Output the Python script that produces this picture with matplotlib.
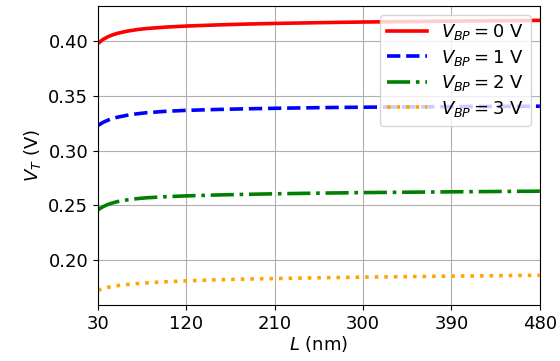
import matplotlib
matplotlib.use("Agg")
import matplotlib.pyplot as plt

# channel length (nm) and threshold voltage (V) per back-plane bias
L_nm = [30, 35, 40, 45, 50, 60, 70, 80, 100, 120, 150, 180, 210, 255, 300, 390, 480]
vt_0V = [0.398, 0.4015, 0.404, 0.4058, 0.4072, 0.4092, 0.4106, 0.4116, 0.4129, 0.4138,
         0.4148, 0.4156, 0.4162, 0.4169, 0.4175, 0.4183, 0.4190]
vt_1V = [0.323, 0.3258, 0.3278, 0.3294, 0.3306, 0.3324, 0.3337, 0.3347, 0.3360, 0.3368,
         0.3376, 0.3382, 0.3387, 0.3393, 0.3397, 0.3402, 0.3406]
vt_2V = [0.246, 0.2488, 0.2508, 0.2523, 0.2535, 0.2551, 0.2562, 0.2570, 0.2580, 0.2587,
         0.2595, 0.2601, 0.2606, 0.2612, 0.2617, 0.2624, 0.2630]
vt_3V = [0.1725, 0.1740, 0.1751, 0.1760, 0.1767, 0.1778, 0.1786, 0.1793, 0.1803, 0.1811,
         0.1820, 0.1827, 0.1832, 0.1839, 0.1845, 0.1854, 0.1862]
xticks = [30, 120, 210, 300, 390, 480]

plt.rcParams['font.size'] = 13
fig = plt.figure(figsize=(5.6, 3.61), dpi=100)
ax = fig.add_axes([0.175, 0.155, 0.789, 0.828])

ax.plot(L_nm, vt_0V, '-', color='red', lw=2.6, label=r'$V_{BP} = 0$ V')
ax.plot(L_nm, vt_1V, '--', color='blue', lw=2.6, label=r'$V_{BP} = 1$ V')
ax.plot(L_nm, vt_2V, '-.', color='green', lw=2.6, label=r'$V_{BP} = 2$ V')
ax.plot(L_nm, vt_3V, ':', color='orange', lw=2.6, label=r'$V_{BP} = 3$ V')

ax.set_xlim(30, 480)
ax.set_ylim(0.159, 0.432)
ax.set_xticks(xticks)
ax.set_yticks([0.20, 0.25, 0.30, 0.35, 0.40])
ax.grid(True)
ax.set_xlabel(r'$L$ (nm)', labelpad=1)
ax.set_ylabel(r'$V_T$ (V)')
ax.legend(loc='upper right', fontsize=13, handlelength=2.2, borderpad=0.4, labelspacing=0.3)

fig.savefig("out.png", dpi=100)
